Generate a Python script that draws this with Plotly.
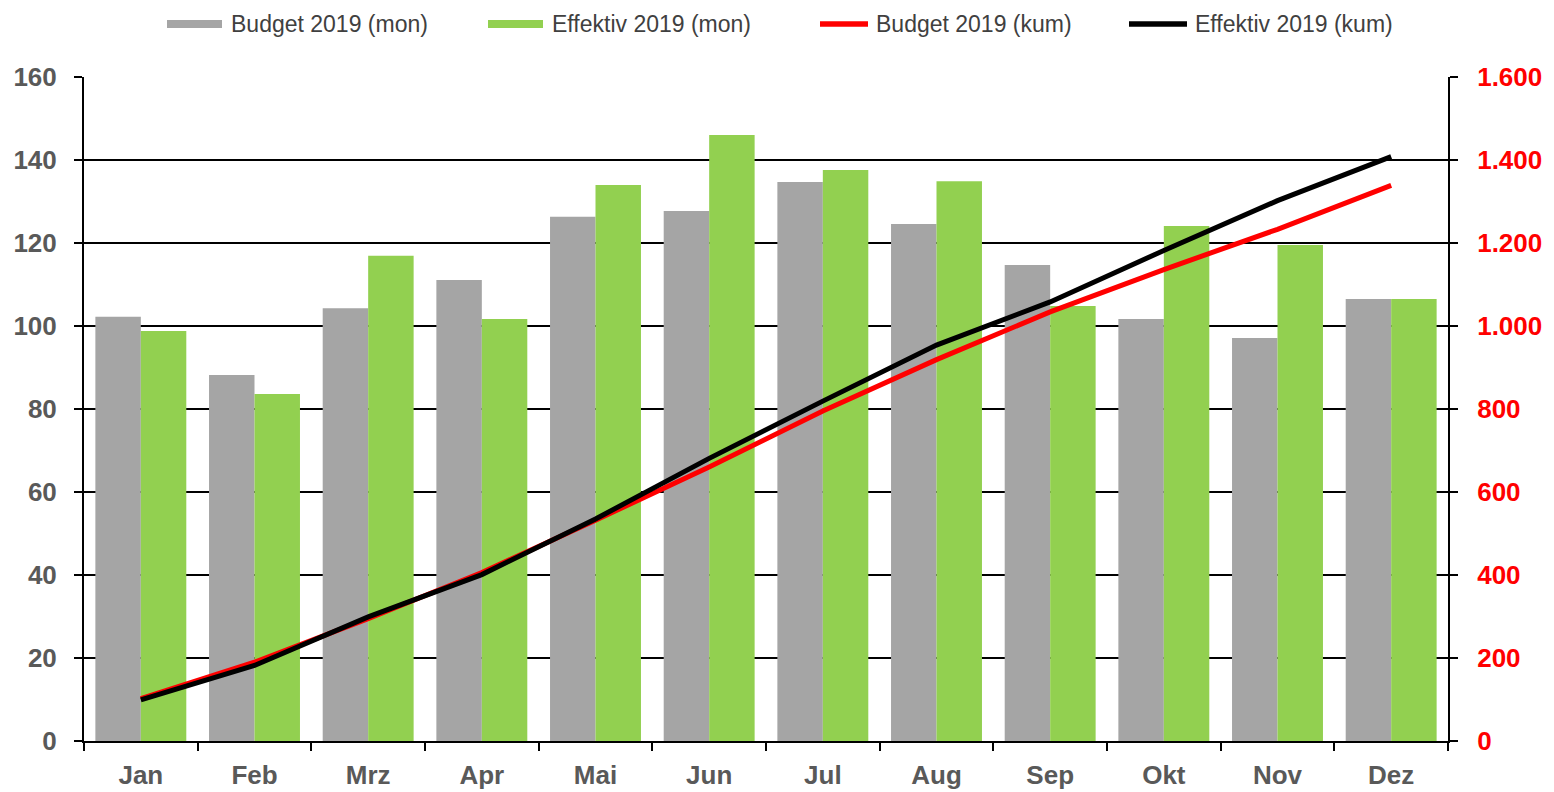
import plotly.graph_objects as go

months = ["Jan", "Feb", "Mrz", "Apr", "Mai", "Jun", "Jul", "Aug", "Sep", "Okt", "Nov", "Dez"]
budget_mon = [102.2, 88.2, 104.3, 111.1, 126.3, 127.7, 134.7, 124.6, 114.7, 101.7, 97.1, 106.5]
effektiv_mon = [98.8, 83.6, 116.9, 101.7, 134.0, 146.0, 137.6, 134.9, 104.8, 124.1, 119.5, 106.5]
budget_kum = [102, 190, 295, 406, 532, 660, 795, 919, 1034, 1136, 1233, 1339]
effektiv_kum = [99, 182, 299, 401, 535, 681, 819, 954, 1058, 1182, 1302, 1408]
legend_labels = ["Budget 2019 (mon)", "Effektiv 2019 (mon)", "Budget 2019 (kum)", "Effektiv 2019 (kum)"]

GRAY = "#A5A5A5"
GREEN = "#92D050"
RED = "#FF0000"
BLACK = "#000000"
FONT = "Liberation Sans"

W, H = 1554, 792
L, R, T, B = 84, 106, 77, 51
PW, PH = W - L - R, H - T - B


def px_x(x):
    return (x - L) / PW


def px_y(y):
    return (H - B - y) / PH


fig = go.Figure()
fig.add_trace(go.Bar(x=months, y=budget_mon, name=legend_labels[0], marker_color=GRAY,
                     marker_line_width=0, showlegend=False))
fig.add_trace(go.Bar(x=months, y=effektiv_mon, name=legend_labels[1], marker_color=GREEN,
                     marker_line_width=0, showlegend=False))
fig.add_trace(go.Scatter(x=months, y=budget_kum, name=legend_labels[2], yaxis="y2", mode="lines",
                         line=dict(color=RED, width=5), showlegend=False))
fig.add_trace(go.Scatter(x=months, y=effektiv_kum, name=legend_labels[3], yaxis="y2", mode="lines",
                         line=dict(color=BLACK, width=5), showlegend=False))

# manual legend
legend_sym = [(167, 222), (488, 543), (820, 868), (1129, 1187)]
legend_txt = [229, 550, 874, 1193]
legend_col = [GRAY, GREEN, RED, BLACK]
legend_w = [8, 8, 5.5, 5.5]
ly = 24
shapes = []
annotations = []
for (x0, x1), tx, c, lw, lab in zip(legend_sym, legend_txt, legend_col, legend_w, legend_labels):
    shapes.append(dict(type="line", xref="paper", yref="paper", x0=px_x(x0), x1=px_x(x1),
                       y0=px_y(ly), y1=px_y(ly), line=dict(color=c, width=lw)))
    annotations.append(dict(xref="paper", yref="paper", x=px_x(tx), y=px_y(ly), xanchor="left",
                            yanchor="middle", text=lab, showarrow=False,
                            font=dict(family=FONT, size=23, color="#404040")))

fig.update_layout(
    width=W, height=H,
    margin=dict(l=L, r=R, t=T, b=B, pad=0, autoexpand=False),
    paper_bgcolor="white", plot_bgcolor="white",
    barmode="group", bargap=0.2, bargroupgap=0,
    separators=",.",
    showlegend=False,
    shapes=shapes,
    annotations=annotations,
    font=dict(family=FONT),
    xaxis=dict(
        automargin=False,
        showgrid=False, showline=True, linecolor=BLACK, linewidth=2,
        ticks="outside", tickson="boundaries", ticklen=8, tickwidth=2, tickcolor=BLACK,
        ticklabelstandoff=10,
        tickfont=dict(family=FONT, size=26, color="#595959", weight="bold"),
        range=[-0.5, 11.5],
    ),
    yaxis=dict(
        automargin=False,
        range=[0, 160], dtick=20, showgrid=True, gridcolor=BLACK, gridwidth=2,
        showline=True, linecolor=BLACK, linewidth=2, zeroline=False,
        ticks="outside", ticklen=8, tickwidth=2, tickcolor=BLACK,
        ticklabelstandoff=12,
        tickfont=dict(family=FONT, size=26, color="#595959", weight="bold"),
    ),
    yaxis2=dict(
        automargin=False,
        range=[0, 1600], dtick=200, overlaying="y", side="right", showgrid=False,
        showline=True, linecolor=BLACK, linewidth=2, zeroline=False,
        ticks="outside", ticklen=8, tickwidth=2, tickcolor=BLACK,
        ticklabelstandoff=14,
        separatethousands=True, tickformat=",d",
        tickfont=dict(family=FONT, size=26, color=RED, weight="bold"),
    ),
)

fig.write_html("out.html")
